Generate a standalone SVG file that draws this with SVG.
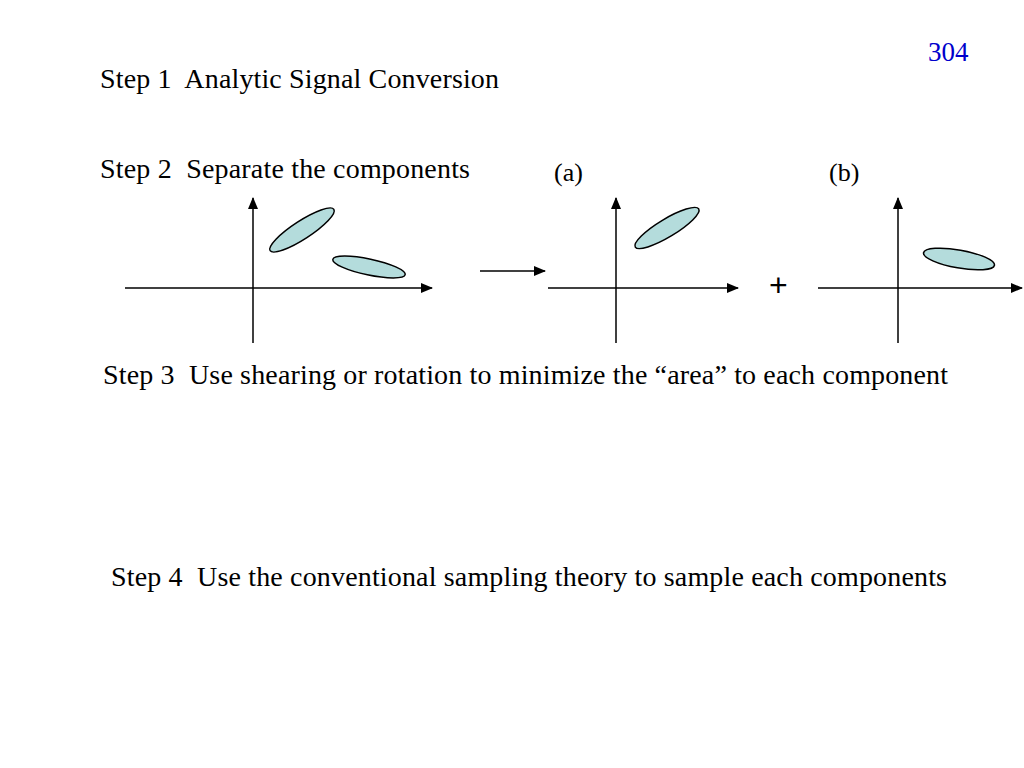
<svg xmlns="http://www.w3.org/2000/svg" width="1024" height="768" viewBox="0 0 1024 768">
<style>
.t{font-family:"Liberation Serif",serif;font-size:28px;fill:#000;white-space:pre}
.ax{stroke:#000;stroke-width:1.5;fill:none}
.el{fill:#b4dcdc;stroke:#000;stroke-width:1.5}
</style>
<defs><marker id="ah" markerWidth="12" markerHeight="10" refX="11" refY="5" orient="auto" markerUnits="userSpaceOnUse"><path d="M0,0L12,5L0,10Z" fill="#000"/></marker></defs>
<rect width="1024" height="768" fill="#fff"/>
<text x="928" y="61" class="t" style="fill:#0000cc;font-size:27px">304</text>
<text x="100" y="88" class="t" xml:space="preserve" textLength="399">Step 1  Analytic Signal Conversion</text>
<text x="100" y="178" class="t" xml:space="preserve" textLength="370">Step 2  Separate the components</text>
<text x="554" y="181" class="t" style="font-size:26px">(a)</text>
<text x="829" y="181" class="t" style="font-size:26px">(b)</text>
<g id="plot1">
<ellipse class="el" cx="302" cy="230" rx="38" ry="9" transform="rotate(-33 302 230)"/>
<ellipse class="el" cx="369" cy="267" rx="37" ry="8" transform="rotate(12 369 267)"/>
</g>
<g id="plot2"><ellipse class="el" cx="667" cy="228" rx="37" ry="9" transform="rotate(-31 667 228)"/></g>
<g id="plot3"><ellipse class="el" cx="959" cy="259" rx="36" ry="9" transform="rotate(10 959 259)"/></g>
<text x="769" y="296" style="font-family:'Liberation Sans',sans-serif;font-size:32px">+</text>
<g id="connectors">
<line class="ax" x1="125" y1="288" x2="432" y2="288" marker-end="url(#ah)"/>
<line class="ax" x1="253" y1="343" x2="253" y2="198" marker-end="url(#ah)"/>
<line class="ax" x1="480" y1="271" x2="545" y2="271" marker-end="url(#ah)"/>
<line class="ax" x1="548" y1="288" x2="738" y2="288" marker-end="url(#ah)"/>
<line class="ax" x1="616" y1="343" x2="616" y2="198" marker-end="url(#ah)"/>
<line class="ax" x1="818" y1="288" x2="1022" y2="288" marker-end="url(#ah)"/>
<line class="ax" x1="898" y1="343" x2="898" y2="198" marker-end="url(#ah)"/>
</g>
<text x="103" y="384" class="t" xml:space="preserve" textLength="845">Step 3  Use shearing or rotation to minimize the “area” to each component</text>
<text x="111" y="586" class="t" xml:space="preserve" textLength="836">Step 4  Use the conventional sampling theory to sample each components</text>
</svg>
